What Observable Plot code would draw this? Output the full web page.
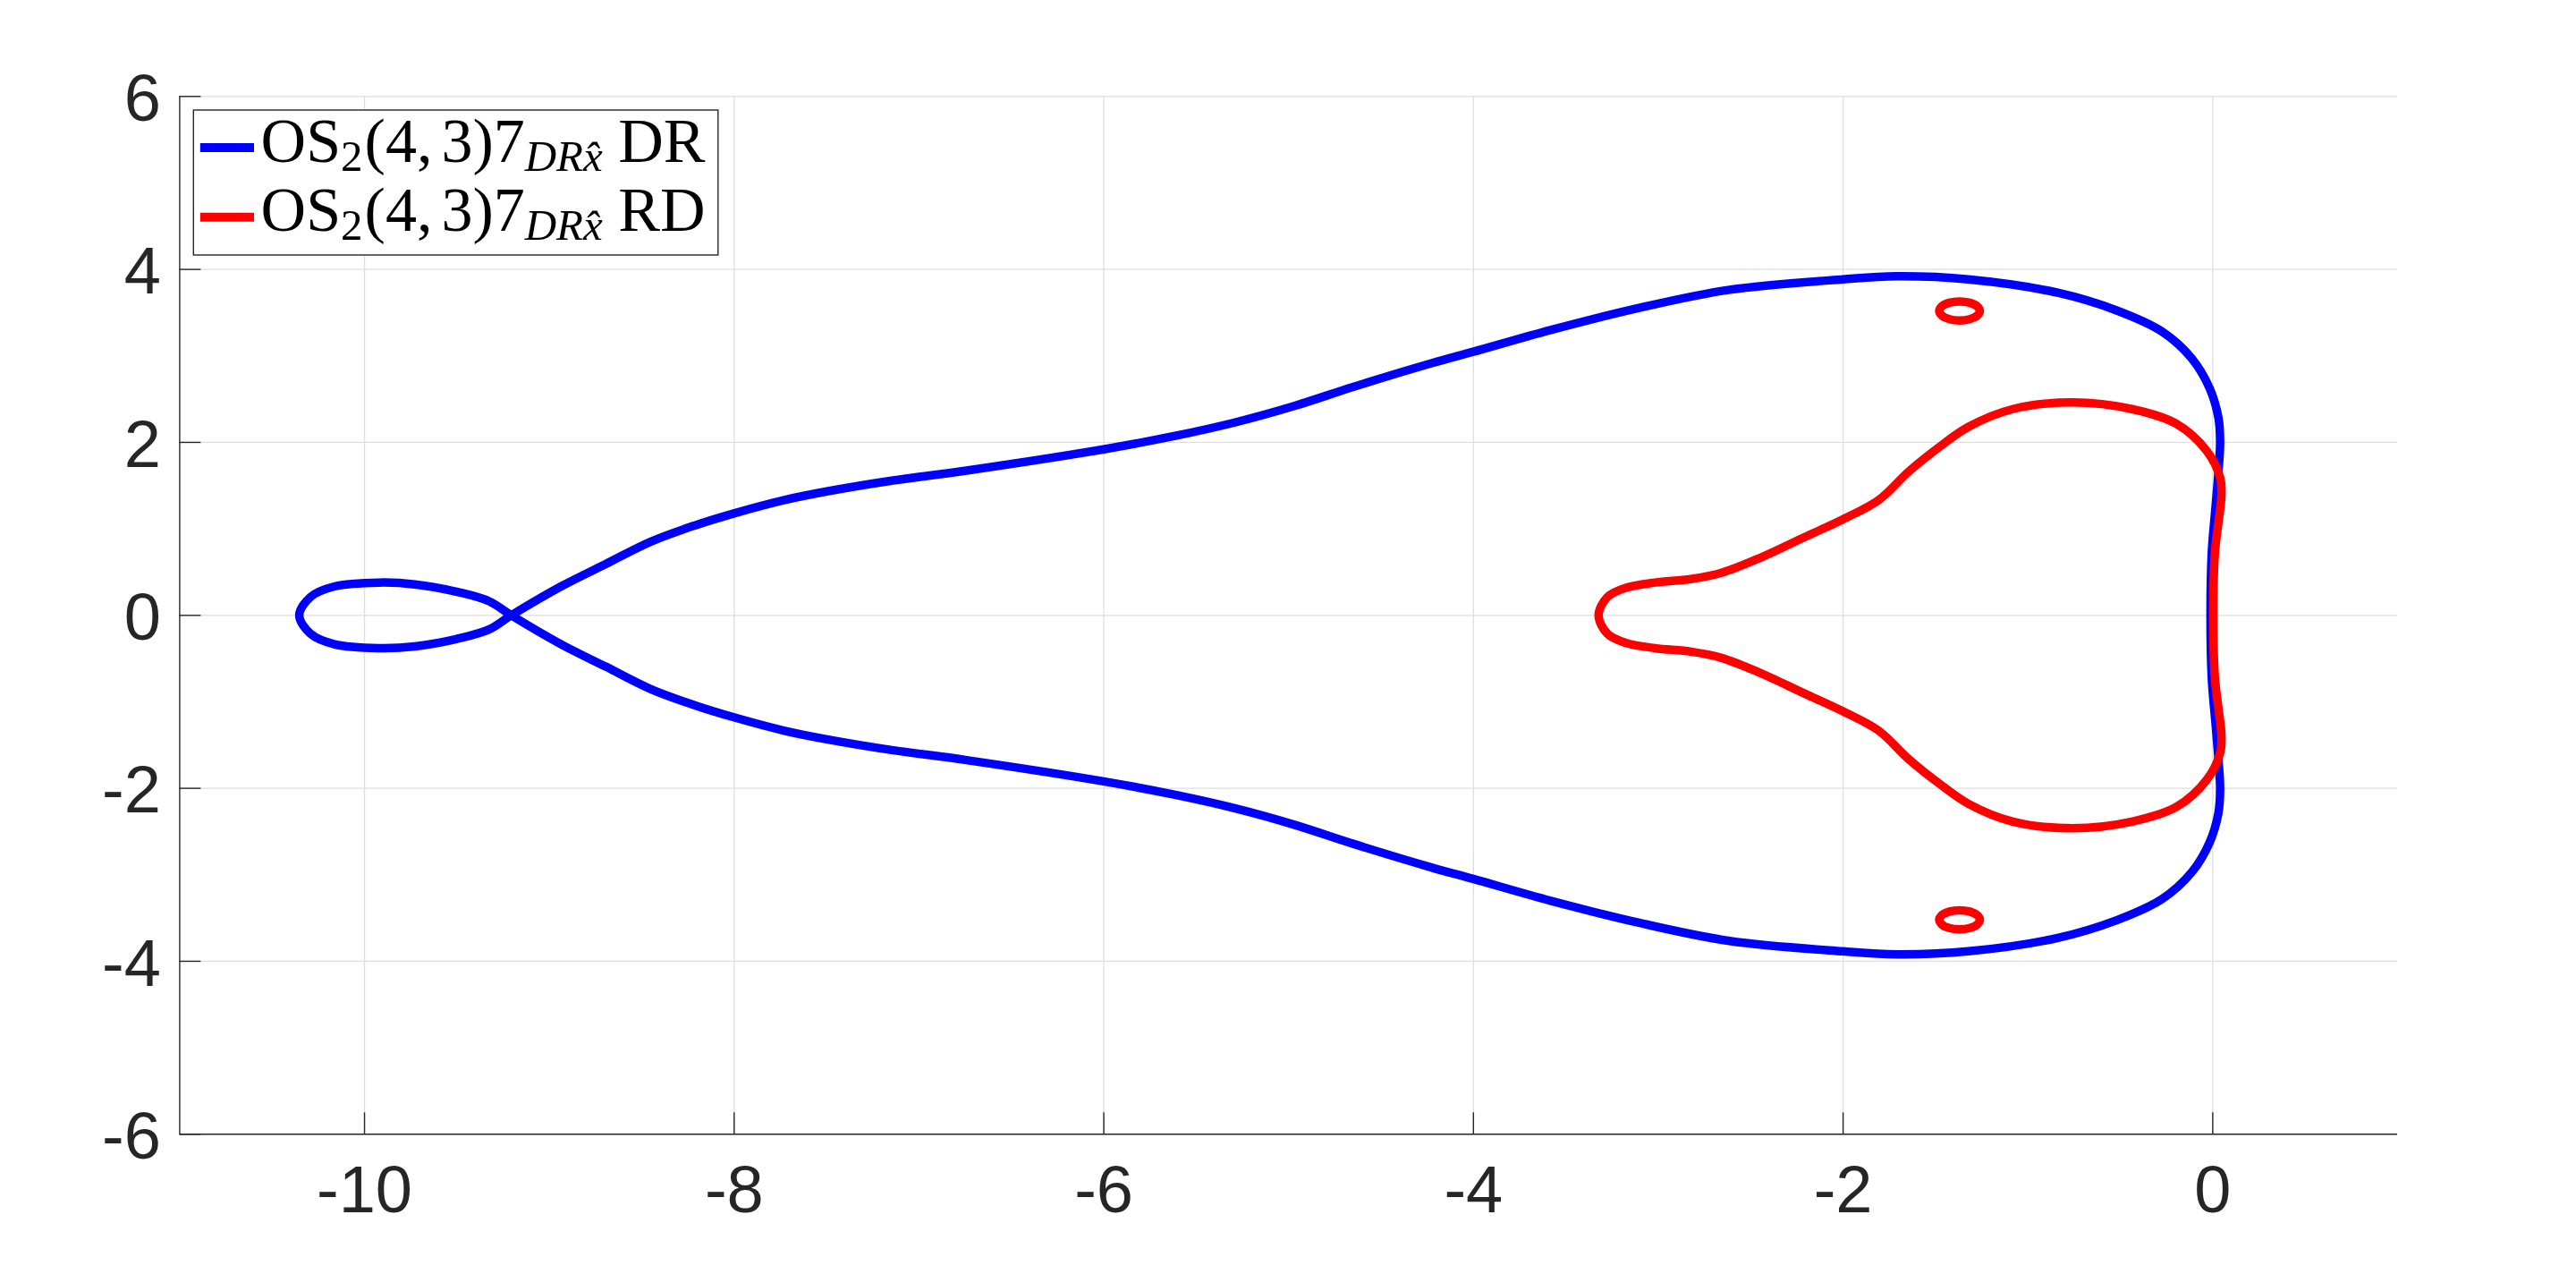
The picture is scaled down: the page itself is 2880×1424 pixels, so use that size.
<!DOCTYPE html>
<html>
<head>
<meta charset="utf-8">
<script src="https://cdn.jsdelivr.net/npm/d3@7"></script>
<script src="https://cdn.jsdelivr.net/npm/@observablehq/plot@0.6"></script>
<style>
  html, body { margin: 0; padding: 0; background: #fff; }
  #chart { position: relative; width: 2880px; height: 1424px; }
</style>
</head>
<body>
<div id="chart"></div>
<script>
// ---- data ----
const xTicks = [-10, -8, -6, -4, -2, 0];
const yTicks = [-6, -4, -2, 0, 2, 4, 6];

const legendLabels = ["DR", "RD"];

// blue closed curve (DR), traced in order
const blueX = [-10.353, -10.292, -10.163, -9.921, -9.727, -9.486, -9.324, -9.206,
  -8.937, -8.695, -8.453, -8.211, -8.001, -7.727, -7.485, -7.163, -6.743, -6.001, -5.614,
  -5.292, -4.969, -4.647, -4.227, -4.001, -3.582, -3.098, -2.614, -2.001, -1.711, -1.323,
  -0.839, -0.517, -0.275, -0.114, -0.017, 0.031, 0.040, 0.031, 0.015, -0.005, -0.012,
  -0.005, 0.015, 0.031, 0.040, 0.031, -0.017, -0.114, -0.275, -0.517, -0.839,
  -1.323, -1.711, -2.001, -2.614, -3.098, -3.582, -4.001, -4.227, -4.647, -4.969,
  -5.292, -5.614, -6.001, -6.743, -7.163, -7.485, -7.727, -8.001, -8.211, -8.453,
  -8.695, -8.937, -9.206, -9.324, -9.486, -9.727, -9.921, -10.163, -10.292];
const blueY = [0, 0.213, 0.334, 0.379, 0.358, 0.265, 0.161, 0,
  -0.334, -0.593, -0.851, -1.041, -1.179, -1.334, -1.438, -1.552, -1.674, -1.920, -2.075,
  -2.230, -2.421, -2.644, -2.915, -3.048, -3.300, -3.558, -3.765, -3.885, -3.920, -3.885,
  -3.730, -3.523, -3.282, -2.972, -2.627, -2.282, -2.007, -1.661, -1.248, -0.730, 0,
  0.730, 1.248, 1.661, 2.007, 2.282, 2.627, 2.972, 3.282, 3.523, 3.730,
  3.885, 3.920, 3.885, 3.765, 3.558, 3.300, 3.048, 2.915, 2.644, 2.421,
  2.230, 2.075, 1.920, 1.674, 1.552, 1.438, 1.334, 1.179, 1.041, 0.851,
  0.593, 0.334, 0, -0.161, -0.265, -0.358, -0.379, -0.334, -0.213];

// red closed curve (RD)
const redX = [-3.323, -3.275, -3.178, -3.017, -2.824, -2.662, -2.452, -2.210, -2.001,
  -1.807, -1.646, -1.485, -1.323, -1.082, -0.759, -0.437, -0.195, -0.033, 0.040, 0.047,
  0.031, 0.012, 0.003,
  0.012, 0.031, 0.047, 0.040, -0.033, -0.195, -0.437, -0.759, -1.082, -1.323, -1.485,
  -1.646, -1.807, -2.001, -2.210, -2.452, -2.662, -2.824, -3.017, -3.178, -3.275];
const redY = [0, 0.213, 0.317, 0.379, 0.420, 0.489, 0.662, 0.903, 1.110,
  1.334, 1.661, 1.937, 2.178, 2.385, 2.462, 2.385, 2.213, 1.903, 1.593, 1.386,
  1.076, 0.730, 0,
  -0.730, -1.076, -1.386, -1.593, -1.903, -2.213, -2.385, -2.462, -2.385, -2.178, -1.937,
  -1.661, -1.334, -1.110, -0.903, -0.662, -0.489, -0.420, -0.379, -0.317, -0.213];

// small red loops
const smallUpperX = [-1.26, -1.275, -1.315, -1.37, -1.425, -1.465, -1.48, -1.465, -1.425, -1.37, -1.315, -1.275];
const smallUpperY = [3.52, 3.575, 3.615, 3.63, 3.615, 3.575, 3.52, 3.465, 3.425, 3.41, 3.425, 3.465];
const smallLowerX = [-1.26, -1.275, -1.315, -1.37, -1.425, -1.465, -1.48, -1.465, -1.425, -1.37, -1.315, -1.275];
const smallLowerY = [-3.52, -3.465, -3.425, -3.41, -3.425, -3.465, -3.52, -3.575, -3.615, -3.63, -3.615, -3.575];

// ---- build rows ----
const toRows = (xs, ys, series) => xs.map((x, i) => ({x, y: ys[i], series}));
const blueRows = toRows(blueX, blueY, "blue");
const redRows = [
  ...toRows(redX, redY, "redMain"),
  ...toRows(smallUpperX, smallUpperY, "redUp"),
  ...toRows(smallLowerX, smallLowerY, "redDown")
];

const INK = "#262626";
const GRID = "#dedede";
const FONT = "'Liberation Sans', Arial, Helvetica, sans-serif";
const fmt = (d) => String(d); // plain hyphen-minus like the reference

const plot = Plot.plot({
  width: 2880,
  height: 1424,
  marginLeft: 200.4,
  marginRight: 200,
  marginTop: 107.3,
  marginBottom: 156.7,
  style: {background: "#fff", fontFamily: FONT, color: INK, overflow: "visible"},
  x: {domain: [-11, 1]},
  y: {domain: [-6, 6]},
  marks: [
    Plot.gridX(xTicks, {stroke: GRID, strokeOpacity: 1, strokeWidth: 1.3}),
    Plot.gridY(yTicks, {stroke: GRID, strokeOpacity: 1, strokeWidth: 1.3}),
    Plot.line(blueRows, {x: "x", y: "y", z: "series", stroke: "#0000ff", strokeWidth: 9.5,
      curve: "catmull-rom-closed", strokeLinejoin: "round", strokeLinecap: "round"}),
    Plot.line(redRows, {x: "x", y: "y", z: "series", stroke: "#ff0000", strokeWidth: 9.5,
      curve: "catmull-rom-closed", strokeLinejoin: "round", strokeLinecap: "round"}),
    Plot.ruleY([-6], {stroke: INK, strokeWidth: 1.4}),
    Plot.ruleX([-11], {stroke: INK, strokeWidth: 1.4}),
    Plot.axisX({ticks: xTicks, tickSize: -24, tickFormat: () => "", stroke: INK, strokeWidth: 1.4, label: null}),
    Plot.axisY({ticks: yTicks, tickSize: -24, tickFormat: () => "", stroke: INK, strokeWidth: 1.4, label: null}),
    Plot.axisX({ticks: xTicks, tickSize: 0, tickPadding: 35, tickFormat: fmt, fontSize: 74, fill: INK, label: null}),
    Plot.axisY({ticks: yTicks, tickSize: 0, tickPadding: 21, tickFormat: fmt, fontSize: 74, fill: INK, dy: 3.5, label: null})
  ]
});

document.getElementById("chart").appendChild(plot);

// ---- legend (inside the axes, top-left) ----
const svg = d3.select(plot);
const lg = svg.append("g").attr("class", "legend").attr("text-anchor", "start");
lg.append("rect")
  .attr("x", 216.3).attr("y", 123).attr("width", 586.5).attr("height", 162)
  .attr("fill", "#fff").attr("stroke", INK).attr("stroke-width", 1.4);

const rowsY = [165, 242.7];
const colors = ["#0000ff", "#ff0000"];
legendLabels.forEach((lab, i) => {
  lg.append("line")
    .attr("x1", 223.8).attr("x2", 284)
    .attr("y1", rowsY[i]).attr("y2", rowsY[i])
    .attr("stroke", colors[i]).attr("stroke-width", 10);
  const t = lg.append("text")
    .attr("x", 291.6).attr("y", rowsY[i] + 15.7)
    .attr("text-anchor", "start")
    .attr("font-family", "'Liberation Serif', 'Times New Roman', serif")
    .attr("font-size", 70).attr("fill", "#000");
  t.append("tspan").text("OS");
  t.append("tspan").attr("font-size", 49).attr("dy", 10).text("2");
  t.append("tspan").attr("dy", -10).attr("dx", 2).text("(4,");
  t.append("tspan").attr("dx", 10).text("3)7");
  t.append("tspan").attr("font-size", 49).attr("dy", 10).attr("font-style", "italic").text("DRx\u0302");
  t.append("tspan").attr("dy", -10).text("\u00a0" + lab);
});
</script>
</body>
</html>
